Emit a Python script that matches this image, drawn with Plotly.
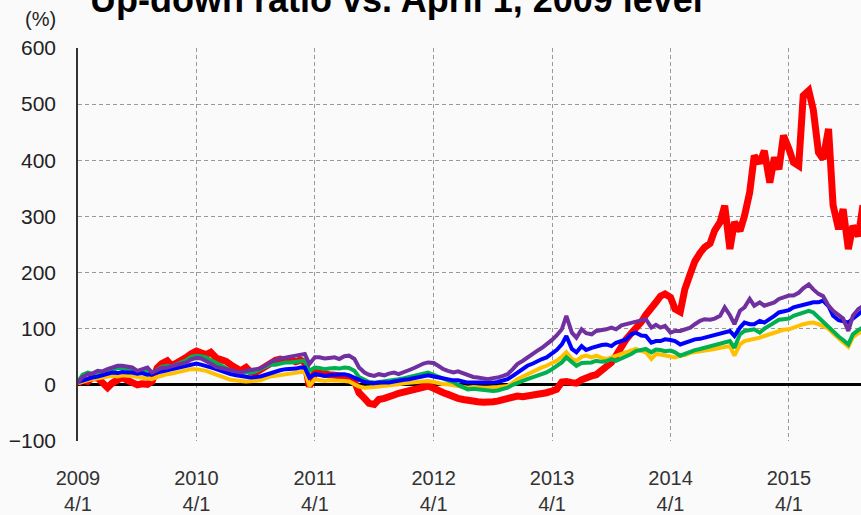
import pandas as pd
import plotly.graph_objects as go

# semi-monthly observation dates starting 2009-04-01
dates = pd.date_range("2009-04-01", periods=160, freq="SMS").strftime("%Y-%m-%d").tolist()

red = [3, 8, 6, 13, 12, 4, -5, 3, 10, 13, 8, 4, 0, 2, 1, 6, 30, 38, 43, 34,
       39, 42, 49, 55, 60, 57, 54, 58, 48, 45, 42, 36, 28, 25, 31, 23, 22, 26, 33, 38,
       44, 46, 43, 45, 41, 44, 40, -3, 22, 20, 19, 18, 17, 16, 18, 14, 6, -14, -24, -33,
       -35, -26, -24, -20, -18, -15, -13, -10, -8, -5, -3, -2, -6, -11, -14, -17, -22, -24, -26, -28,
       -29, -30, -31, -32, -30, -29, -26, -23, -22, -20, -21, -20, -19, -17, -16, -14, -11, -8, 5, 6,
       4, 3, 9, 13, 16, 18, 26, 33, 40, 52, 69, 81, 92, 100, 112, 125, 135, 147, 158, 162,
       156, 135, 130, 170, 198, 220, 235, 245, 252, 275, 290, 319, 242, 290, 274, 301, 343, 408, 395, 417,
       360, 405, 384, 444, 420, 396, 390, 515, 524, 490, 414, 402, 456, 320, 277, 313, 242, 283, 265, 320]

yellow = [3, 6, 8, 10, 12, 13, 14, 16, 15, 17, 16, 16, 14, 13, 11, 10, 14, 17, 19, 20,
          22, 23, 25, 28, 28, 27, 25, 22, 18, 14, 12, 9, 7, 7, 6, 7, 7, 8, 12, 15,
          16, 17, 19, 20, 21, 23, 25, -2, 10, 9, 7, 8, 8, 7, 7, 6, 1, -3, -5, -5,
          -4, -3, -2, -2, -1, 1, 3, 4, 5, 6, 7, 7, 5, 3, 1, 1, -1, -3, -5, -5,
          -4, -5, -5, -5, -5, -4, -3, -2, 4, 10, 15, 19, 24, 28, 31, 34, 38, 43, 50, 58,
          46, 43, 50, 52, 49, 52, 48, 46, 49, 52, 56, 58, 61, 64, 60, 58, 46, 55, 54, 52,
          51, 49, 52, 53, 57, 58, 59, 60, 62, 64, 66, 68, 69, 52, 72, 78, 80, 81, 84, 87,
          90, 93, 96, 98, 99, 102, 105, 108, 110, 111, 108, 105, 100, 92, 82, 76, 68, 85, 92, 96]

green = [6, 18, 22, 20, 22, 21, 24, 27, 30, 30, 29, 27, 24, 25, 26, 21, 28, 32, 34, 33,
         37, 40, 44, 50, 52, 51, 49, 44, 40, 35, 30, 25, 22, 21, 22, 22, 24, 28, 32, 36,
         36, 38, 40, 40, 41, 42, 43, 25, 31, 30, 28, 29, 30, 29, 31, 30, 25, 14, 8, 5,
         4, 5, 6, 7, 8, 10, 12, 14, 16, 18, 21, 22, 18, 14, 11, 8, 5, 0, -5, -8,
         -7, -8, -9, -10, -11, -10, -7, -5, 0, 4, 7, 10, 13, 16, 19, 22, 28, 34, 40, 49,
         40, 34, 39, 40, 40, 43, 41, 42, 46, 43, 47, 50, 55, 60, 62, 64, 58, 63, 62, 60,
         61, 58, 52, 55, 60, 62, 64, 66, 69, 71, 72, 75, 78, 66, 90, 96, 98, 99, 93, 100,
         106, 111, 116, 117, 118, 123, 126, 130, 132, 129, 120, 114, 105, 96, 86, 80, 72, 90, 98, 102]

blue = [5, 8, 10, 13, 15, 17, 19, 22, 21, 23, 22, 22, 20, 21, 18, 19, 22, 24, 25, 27,
        31, 32, 34, 37, 38, 36, 34, 31, 28, 25, 22, 19, 17, 16, 14, 13, 14, 15, 18, 21,
        24, 26, 28, 28, 29, 31, 31, 13, 19, 18, 16, 17, 18, 19, 19, 17, 13, 8, 5, 4,
        3, 4, 4, 4, 6, 8, 9, 10, 12, 14, 16, 17, 15, 13, 11, 10, 8, 8, 6, 4,
        4, 4, 3, 4, 4, 5, 7, 10, 16, 22, 28, 34, 38, 43, 46, 49, 55, 62, 72, 87,
        64, 58, 69, 62, 66, 69, 71, 72, 69, 75, 78, 81, 90, 93, 88, 87, 75, 78, 78, 81,
        80, 78, 72, 75, 79, 81, 82, 84, 86, 88, 90, 93, 96, 87, 102, 111, 108, 108, 114, 111,
        117, 123, 129, 131, 133, 138, 141, 143, 145, 147, 147, 150, 140, 123, 115, 113, 111, 118, 125, 132]

purple = [4, 14, 19, 20, 25, 24, 28, 31, 34, 34, 33, 31, 25, 28, 31, 22, 27, 30, 31, 34,
          36, 38, 40, 45, 48, 47, 43, 38, 32, 30, 28, 26, 23, 22, 25, 27, 28, 29, 36, 40,
          45, 47, 49, 50, 52, 53, 55, 37, 49, 49, 47, 48, 49, 46, 51, 52, 46, 31, 22, 18,
          16, 19, 17, 20, 22, 19, 22, 26, 30, 34, 38, 40, 39, 34, 28, 25, 22, 24, 20, 17,
          14, 13, 12, 10, 12, 13, 16, 19, 28, 37, 43, 49, 55, 61, 66, 72, 80, 88, 99, 123,
          93, 84, 99, 92, 90, 96, 97, 99, 102, 99, 106, 108, 111, 114, 115, 117, 102, 107, 102, 105,
          93, 96, 96, 98, 102, 108, 114, 117, 116, 118, 123, 138, 124, 108, 132, 138, 153, 141, 147, 141,
          144, 147, 153, 156, 159, 159, 164, 172, 179, 170, 162, 158, 141, 132, 123, 118, 96, 123, 135, 140]

tick_dates = ["2009-04-01", "2010-04-01", "2011-04-01", "2012-04-01",
              "2013-04-01", "2014-04-01", "2015-04-01"]
tick_text = ["2009<br>4/1", "2010<br>4/1", "2011<br>4/1", "2012<br>4/1",
             "2013<br>4/1", "2014<br>4/1", "2015<br>4/1"]
y_ticks = [-100, 0, 100, 200, 300, 400, 500, 600]

FONT = "Arial, Liberation Sans, sans-serif"

fig = go.Figure()
series = [
    ("Series A", red, "#FF0000", 7),
    ("Series B", yellow, "#FFC000", 4),
    ("Series C", green, "#00B050", 4),
    ("Series D", blue, "#0000FF", 4),
    ("Series E", purple, "#7030A0", 4),
]
for name, vals, color, w in series:
    fig.add_trace(go.Scatter(x=dates, y=vals, mode="lines", name=name,
                             line=dict(color=color, width=w), showlegend=False))

fig.update_layout(
    width=861, height=515,
    margin=dict(l=78, r=0, t=48, b=74, autoexpand=False),
    paper_bgcolor="#fafafa", plot_bgcolor="#fafafa",
    font=dict(family=FONT, color="#222"),
    xaxis=dict(type="date", range=["2009-04-01", "2015-11-09"],
               tickvals=tick_dates, ticktext=tick_text,
               showgrid=True, gridcolor="#999", gridwidth=1, griddash="4px,3px",
               zeroline=False, showline=False, ticks="",
               tickfont=dict(size=20, family=FONT, color="#333"),
               ticklabelstandoff=23, automargin=False),
    yaxis=dict(range=[-100, 600], tickvals=y_ticks,
               showgrid=True, gridcolor="#999", gridwidth=1, griddash="4px,3px",
               zeroline=True, zerolinecolor="#000", zerolinewidth=3,
               showline=True, linecolor="#333", linewidth=1.5, ticks="",
               tickfont=dict(size=21, family=FONT, color="#222"),
               ticklabelstandoff=16, automargin=False),
    annotations=[
        dict(text="<b>Up-down ratio vs. April 1, 2009 level</b>", xref="paper", yref="paper",
             x=0.0128, y=1.1229, xanchor="left", yanchor="middle", showarrow=False,
             font=dict(size=36, family=FONT, color="#000")),
        dict(text="(%)", xref="paper", yref="paper", x=-0.0255, y=1.0728,
             xanchor="right", yanchor="middle", showarrow=False,
             font=dict(size=20, family=FONT, color="#222")),
    ],
)

fig.write_html(
    "out.html",
    config={"displayModeBar": False},
    post_script="document.body.style.margin='0';document.body.style.background='#fafafa';",
)
